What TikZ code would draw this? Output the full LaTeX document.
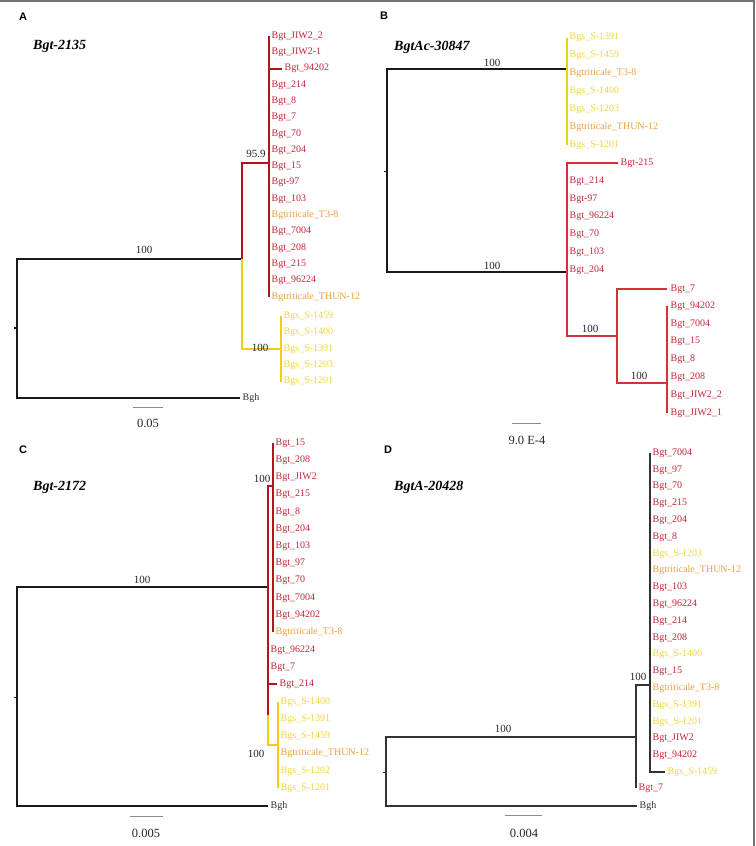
\documentclass[tikz,border=0pt]{standalone}
\usepackage{fontspec}
\setmainfont{Liberation Serif}
\newfontfamily\panelfont{Liberation Sans}
\definecolor{tred}{RGB}{196,38,58}
\definecolor{torange}{RGB}{238,160,62}
\definecolor{tyellow}{RGB}{242,214,60}
\definecolor{lred}{RGB}{178,20,32}
\definecolor{lredB}{RGB}{214,48,56}
\definecolor{lyellow}{RGB}{240,206,20}
\definecolor{lblack}{RGB}{25,25,25}
\begin{document}
\begin{tikzpicture}[x=1pt,y=-1pt,
  leaf/.style={anchor=west,inner sep=0.5pt,font=\fontsize{10}{10}\selectfont},
  boot/.style={inner sep=0pt,text=black!85,font=\fontsize{11}{11}\selectfont},
  ttl/.style={anchor=west,inner sep=0pt,font=\fontsize{14}{14}\selectfont\bfseries\itshape},
  panel/.style={inner sep=0pt,font=\panelfont\bfseries\fontsize{11}{11}\selectfont},
  scalelab/.style={inner sep=0pt,text=black!85,font=\fontsize{12.5}{12.5}\selectfont},
  scalebar/.style={draw=black!45,line width=1pt},
  brA/.style={line width=2.8pt},
  brB/.style={line width=1.3pt},
  brC/.style={line width=2pt},
  brCk/.style={line width=1.5pt},
  brD/.style={line width=1.3pt,draw=black!80},
  frame/.style={draw=black!55,line width=2pt}
]
\useasboundingbox (0,0) rectangle (755,846);
\fill[white] (0,0) rectangle (755,846);
\draw[frame] (0,1) -- (753.5,1) -- (753.5,846);

% ================= Panel A =================
\node[panel] (Alet) at (23,17) {A};
\node[ttl] (Attl) at (33,46) {Bgt-2135};
\coordinate (Ar1) at (17,259); \coordinate (Ar2) at (17,398);
\coordinate (An1) at (242,259); \coordinate (Abgh) at (240,398);
\coordinate (An2) at (242,163); \coordinate (An2r) at (269,163);
\coordinate (An3) at (242,349); \coordinate (An3r) at (281,349);
\draw[brA,lblack] (An1) -- (Ar1) -- (Ar2) -- (Abgh);
\draw[line width=1.2pt,lblack] (14,328) -- (17,328);
\draw[brA,lred] (An1) -- (An2) -- (An2r);
\draw[brA,lred] (269,36) -- (269,297);
\draw[brA,lred] (269,69) -- (282,69);
\draw[brA,lyellow] (An1) -- (An3) -- (An3r);
\draw[brA,lyellow] (281,316) -- (281,382);
\foreach \t/\c/\x [count=\i from 0] in {Bgt\_JIW2\_2/tred/271,Bgt\_JIW2-1/tred/271,Bgt\_94202/tred/284,Bgt\_214/tred/271,Bgt\_8/tred/271,Bgt\_7/tred/271,Bgt\_70/tred/271,Bgt\_204/tred/271,Bgt\_15/tred/271,Bgt-97/tred/271,Bgt\_103/tred/271,Bgtriticale\_T3-8/torange/271,Bgt\_7004/tred/271,Bgt\_208/tred/271,Bgt\_215/tred/271,Bgt\_96224/tred/271,Bgtriticale\_THUN-12/torange/271}
  \node[leaf,text=\c] (Al\i) at (\x,{36+16.3*\i}) {\t};
\foreach \t/\c [count=\i from 0] in {Bgs\_S-1459/tyellow,Bgs\_S-1400/tyellow,Bgs\_S-1391/tyellow,Bgs\_S-1203/tyellow,Bgs\_S-1201/tyellow}
  \node[leaf,text=\c] (Ay\i) at (283,{316+16.4*\i}) {\t};
\node[leaf,text=black!80] (Abghl) at (242,398) {Bgh};
\node[boot] (Ab1) at (144,250) {100};
\node[boot] (Ab2) at (256,154) {95.9};
\node[boot] (Ab3) at (260,348) {100};
\draw[scalebar] (133,407) -- (163,407);
\node[scalelab] (As) at (148,423) {0.05};

% ================= Panel B =================
\node[panel] (Blet) at (384,16) {B};
\node[ttl] (Bttl) at (394,47) {BgtAc-30847};
\coordinate (Bn1) at (567,69); \coordinate (Br1) at (387,69);
\coordinate (Br2) at (387,272); \coordinate (Bn2) at (567,272);
\draw[brB,lblack] (Bn1) -- (Br1) -- (Br2) -- (Bn2);
\draw[line width=1pt,lblack] (384,171) -- (387,171);
\draw[brB,lyellow] (567,38) -- (567,145);
\coordinate (Bn3) at (617,336); \coordinate (Bn4) at (667,383);
\draw[brB,lredB] (618,163) -- (567,163) -- (567,336) -- (Bn3);
\draw[brB,lredB] (667,289) -- (617,289) -- (617,383) -- (Bn4);
\draw[brB,lredB] (667,306) -- (667,413);
\foreach \t/\c [count=\i from 0] in {Bgs\_S-1391/tyellow,Bgs\_S-1459/tyellow,Bgtriticale\_T3-8/torange,Bgs\_S-1400/tyellow,Bgs\_S-1203/tyellow,Bgtriticale\_THUN-12/torange,Bgs\_S-1201/tyellow}
  \node[leaf,text=\c] (By\i) at (569,{37+18*\i}) {\t};
\node[leaf,text=tred] (Bl215) at (620,163) {Bgt-215};
\foreach \t [count=\i from 0] in {Bgt\_214,Bgt-97,Bgt\_96224,Bgt\_70,Bgt\_103,Bgt\_204}
  \node[leaf,text=tred] (Br\i) at (569,{181+17.8*\i}) {\t};
\node[leaf,text=tred] (Bl7) at (670,289) {Bgt\_7};
\foreach \t [count=\i from 0] in {Bgt\_94202,Bgt\_7004,Bgt\_15,Bgt\_8,Bgt\_208,Bgt\_JIW2\_2,Bgt\_JIW2\_1}
  \node[leaf,text=tred] (Bs\i) at (670,{306+17.8*\i}) {\t};
\node[boot] (Bb1) at (492,63) {100};
\node[boot] (Bb2) at (492,266) {100};
\node[boot] (Bb3) at (590,329) {100};
\node[boot] (Bb4) at (639,376) {100};
\draw[scalebar] (512,423) -- (541,423);
\node[scalelab] (Bs) at (527,440) {9.0 E-4};

% ================= Panel C =================
\node[panel] (Clet) at (23,450) {C};
\node[ttl] (Cttl) at (33,487) {Bgt-2172};
\coordinate (Cn1) at (268,587); \coordinate (Cr1) at (17,587);
\coordinate (Cr2) at (17,806); \coordinate (Cbgh) at (268,806);
\draw[brCk,lblack] (Cn1) -- (Cr1) -- (Cr2) -- (Cbgh);
\draw[line width=1pt,lblack] (14,697) -- (17,697);
\draw[brC,lred] (273,486) -- (268,486) -- (268,716);
\draw[brC,lred] (273,443) -- (273,632);
\draw[brC,lred] (268,684) -- (277,684);
\draw[brC,lyellow] (268,715) -- (268,745) -- (278,745);
\draw[brC,lyellow] (278,702) -- (278,788);
\foreach \t/\c [count=\i from 0] in {Bgt\_15/tred,Bgt\_208/tred,Bgt\_JIW2/tred,Bgt\_215/tred,Bgt\_8/tred,Bgt\_204/tred,Bgt\_103/tred,Bgt\_97/tred,Bgt\_70/tred,Bgt\_7004/tred,Bgt\_94202/tred,Bgtriticale\_T3-8/torange}
  \node[leaf,text=\c] (Cl\i) at (275,{443+17.2*\i}) {\t};
\node[leaf,text=tred] (Cl96224) at (270,650) {Bgt\_96224};
\node[leaf,text=tred] (Cl7) at (270,667) {Bgt\_7};
\node[leaf,text=tred] (Cl214) at (279,684) {Bgt\_214};
\foreach \t/\c [count=\i from 0] in {Bgs\_S-1400/tyellow,Bgs\_S-1391/tyellow,Bgs\_S-1459/tyellow,Bgtriticale\_THUN-12/torange,Bgs\_S-1202/tyellow,Bgs\_S-1201/tyellow}
  \node[leaf,text=\c] (Cy\i) at (280,{702+17.2*\i}) {\t};
\node[leaf,text=black!80] (Cbghl) at (270,806) {Bgh};
\node[boot] (Cb1) at (142,580) {100};
\node[boot] (Cb2) at (262,479) {100};
\node[boot] (Cb3) at (256,754) {100};
\draw[scalebar] (130,816) -- (163,816);
\node[scalelab] (Cs) at (146,833) {0.005};

% ================= Panel D =================
\node[panel] (Dlet) at (388,450) {D};
\node[ttl] (Dttl) at (394,487) {BgtA-20428};
\coordinate (Dn1) at (636,737); \coordinate (Dr1) at (386,737);
\coordinate (Dr2) at (386,806); \coordinate (Dbgh) at (637,806);
\draw[brD] (Dn1) -- (Dr1) -- (Dr2) -- (Dbgh);
\draw[line width=1pt,black!80] (383,772) -- (386,772);
\draw[brD] (650,685) -- (636,685) -- (636,788);
\draw[brD] (650,453) -- (650,772) -- (665,772);
\foreach \t/\c [count=\i from 0] in {Bgt\_7004/tred,Bgt\_97/tred,Bgt\_70/tred,Bgt\_215/tred,Bgt\_204/tred,Bgt\_8/tred,Bgs\_S-1203/tyellow,Bgtriticale\_THUN-12/torange,Bgt\_103/tred,Bgt\_96224/tred,Bgt\_214/tred,Bgt\_208/tred,Bgs\_S-1400/tyellow,Bgt\_15/tred,Bgtriticale\_T3-8/torange,Bgs\_S-1391/tyellow,Bgs\_S-1201/tyellow,Bgt\_JIW2/tred,Bgt\_94202/tred}
  \node[leaf,text=\c] (Dl\i) at (652,{453+16.8*\i}) {\t};
\node[leaf,text=tyellow] (Dl1459) at (667,772) {Bgs\_S-1459};
\node[leaf,text=tred] (Dl7) at (638,788) {Bgt\_7};
\node[leaf,text=black!80] (Dbghl) at (639,806) {Bgh};
\node[boot] (Db1) at (503,729) {100};
\node[boot] (Db2) at (638,677) {100};
\draw[scalebar] (505,815) -- (542,815);
\node[scalelab] (Ds) at (524,833) {0.004};
\end{tikzpicture}
\end{document}
